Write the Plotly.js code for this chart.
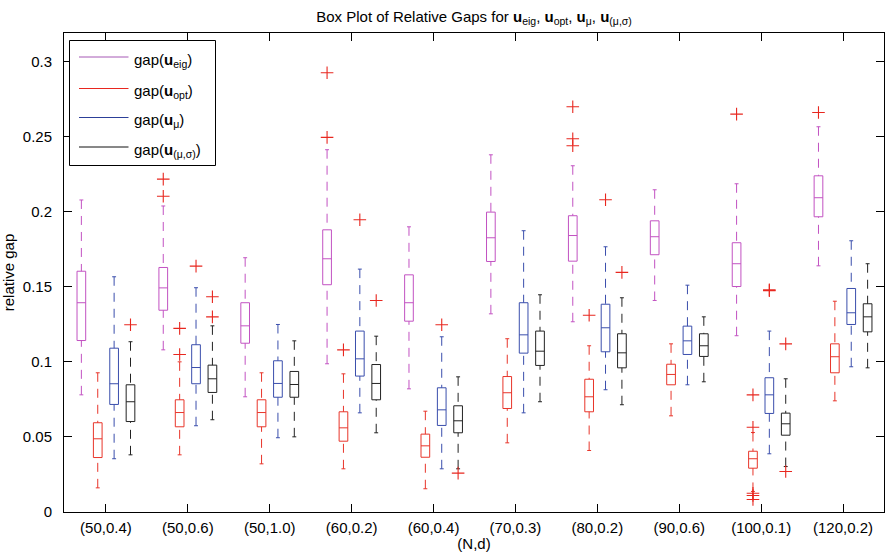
<!DOCTYPE html>
<html>
<head>
<meta charset="utf-8">
<script src="https://cdn.plot.ly/plotly-3.0.1.min.js"></script>
<style>
  html, body { margin: 0; padding: 0; background: #fff; }
  #chart { width: 885px; height: 552px; }
</style>
</head>
<body>
<div id="chart"></div>
<script>
// Problem sizes (N,d)
const groups = ['(50,0.4)', '(50,0.6)', '(50,1.0)', '(60,0.2)', '(60,0.4)',
                '(70,0.3)', '(80,0.2)', '(90,0.6)', '(100,0.1)', '(120,0.2)'];

// gap(u_eig): whisker ends, quartiles, median, outliers
const eigLo  = [0.0781, 0.1081, 0.0768, 0.0988, 0.0821, 0.1321, 0.1268, 0.1410, 0.1175, 0.1641];
const eigQ1  = [0.1143, 0.1345, 0.1125, 0.1515, 0.1272, 0.1670, 0.1672, 0.1715, 0.1503, 0.1968];
const eigMed = [0.1395, 0.1494, 0.1241, 0.1688, 0.1395, 0.1828, 0.1843, 0.1835, 0.1655, 0.2095];
const eigQ3  = [0.1605, 0.1630, 0.1395, 0.1881, 0.1581, 0.1999, 0.1975, 0.1941, 0.1795, 0.2241];
const eigHi  = [0.2080, 0.2040, 0.1695, 0.2415, 0.1901, 0.2381, 0.2308, 0.2148, 0.2188, 0.2568];
const eigOut = [[], [0.2219, 0.2105], [], [0.2928, 0.2497], [], [], [0.2701, 0.2488, 0.2441], [], [0.2652], [0.2663]];

// gap(u_opt)
const optLo  = [0.0161, 0.0381, 0.0321, 0.0288, 0.0155, 0.0461, 0.0410, 0.0641, 0.0137, 0.0741];
const optQ1  = [0.0363, 0.0568, 0.0568, 0.0472, 0.0365, 0.0690, 0.0668, 0.0848, 0.0292, 0.0928];
const optMed = [0.0488, 0.0663, 0.0663, 0.0561, 0.0441, 0.0795, 0.0768, 0.0917, 0.0355, 0.1035];
const optQ3  = [0.0595, 0.0748, 0.0748, 0.0668, 0.0519, 0.0903, 0.0885, 0.0985, 0.0405, 0.1121];
const optHi  = [0.0928, 0.1001, 0.0928, 0.0921, 0.0672, 0.1155, 0.1108, 0.1121, 0.0530, 0.1405];
const optOut = [[], [0.1224, 0.1050], [], [0.1081], [], [], [0.1312], [], [0.0781, 0.0565, 0.0125, 0.0110, 0.0083], []];

// gap(u_mu)
const muLo  = [0.0355, 0.0575, 0.0495, 0.0661, 0.0288, 0.0661, 0.0815, 0.0848, 0.0388, 0.0968];
const muQ1  = [0.0717, 0.0855, 0.0765, 0.0906, 0.0577, 0.1059, 0.1068, 0.1050, 0.0657, 0.1250];
const muMed = [0.0855, 0.0963, 0.0857, 0.1021, 0.0681, 0.1181, 0.1228, 0.1141, 0.0781, 0.1328];
const muQ3  = [0.1092, 0.1115, 0.1008, 0.1206, 0.0828, 0.1395, 0.1385, 0.1239, 0.0895, 0.1490];
const muHi  = [0.1568, 0.1495, 0.1250, 0.1619, 0.1168, 0.1875, 0.1768, 0.1512, 0.1206, 0.1808];
const muOut = [[], [0.1639], [], [0.1948], [0.1248], [], [0.2081], [], [0.1481, 0.1476], []];

// gap(u_(mu,sigma))
const msLo  = [0.0381, 0.0615, 0.0501, 0.0528, 0.0288, 0.0735, 0.0715, 0.0868, 0.0303, 0.0961];
const msQ1  = [0.0603, 0.0797, 0.0765, 0.0748, 0.0528, 0.0977, 0.0961, 0.1037, 0.0512, 0.1201];
const msMed = [0.0735, 0.0888, 0.0850, 0.0857, 0.0608, 0.1072, 0.1061, 0.1108, 0.0588, 0.1301];
const msQ3  = [0.0848, 0.0979, 0.0937, 0.0983, 0.0708, 0.1206, 0.1188, 0.1188, 0.0659, 0.1388];
const msHi  = [0.1135, 0.1241, 0.1141, 0.1172, 0.0901, 0.1448, 0.1428, 0.1301, 0.0888, 0.1655];
const msOut = [[0.1248], [0.1435, 0.1301], [], [0.1410], [0.0259], [], [0.1597], [], [0.1121, 0.0270], []];

const yTicks = [0, 0.05, 0.1, 0.15, 0.2, 0.25, 0.3];

const FONT = '"Liberation Sans", Arial, Helvetica, sans-serif';
const OUTLIER_RED = '#e8271f';

const series = [
  { label: 'gap(<b>u</b><sub>eig</sub>)',   color: '#c252c2', legendColor: '#a659b5', off: -0.3,
    lo: eigLo, q1: eigQ1, med: eigMed, q3: eigQ3, hi: eigHi, out: eigOut },
  { label: 'gap(<b>u</b><sub>opt</sub>)',   color: '#e8352a', legendColor: '#e8271f', off: -0.1,
    lo: optLo, q1: optQ1, med: optMed, q3: optQ3, hi: optHi, out: optOut },
  { label: 'gap(<b>u</b><sub>μ</sub>)',     color: '#3a4eac', legendColor: '#2c3f98', off: 0.1,
    lo: muLo, q1: muQ1, med: muMed, q3: muQ3, hi: muHi, out: muOut },
  { label: 'gap(<b>u</b><sub>(μ,σ)</sub>)', color: '#222222', legendColor: '#111111', off: 0.3,
    lo: msLo, q1: msQ1, med: msMed, q3: msQ3, hi: msHi, out: msOut }
];

const HALF = 0.053;   // half box width, in group units
const CAP = 0.024;    // half whisker-cap width

const traces = [];
series.forEach(s => {
  const bx = [], by = [], mx = [], my = [], wx = [], wy = [], cx = [], cy = [], ox = [], oy = [];
  groups.forEach((g, i) => {
    const c = i + s.off;
    bx.push(c - HALF, c + HALF, c + HALF, c - HALF, c - HALF, null);
    by.push(s.q1[i], s.q1[i], s.q3[i], s.q3[i], s.q1[i], null);
    mx.push(c - HALF, c + HALF, null);
    my.push(s.med[i], s.med[i], null);
    wx.push(c, c, null, c, c, null);
    wy.push(s.hi[i], s.q3[i], null, s.lo[i], s.q1[i], null);
    cx.push(c - CAP, c + CAP, null, c - CAP, c + CAP, null);
    cy.push(s.hi[i], s.hi[i], null, s.lo[i], s.lo[i], null);
    s.out[i].forEach(v => { ox.push(c); oy.push(v); });
  });
  const common = { type: 'scatter', mode: 'lines', hoverinfo: 'skip', showlegend: false, connectgaps: false };
  traces.push(Object.assign({}, common, { x: wx, y: wy, line: { color: s.color, width: 1, dash: '9px,7px' } }));
  traces.push(Object.assign({}, common, { x: cx, y: cy, line: { color: s.color, width: 1 } }));
  traces.push(Object.assign({}, common, { x: bx, y: by, line: { color: s.color, width: 1 } }));
  traces.push(Object.assign({}, common, { x: mx, y: my, line: { color: s.color, width: 1 } }));
  traces.push({ type: 'scatter', mode: 'markers', x: ox, y: oy, hoverinfo: 'y', showlegend: false,
    marker: { symbol: 'cross-thin', size: 9, line: { color: OUTLIER_RED, width: 1.1 } } });
});

// Plot area in pixels: left 64, right 884, top 33, bottom 512
const L = 64, R = 884, T = 33, B = 512;
const px = v => (v - L) / (R - L);
const py = v => (B - v) / (B - T);

// Legend box drawn with shapes and annotations
const shapes = [{
  type: 'rect', xref: 'paper', yref: 'paper',
  x0: px(69.5), x1: px(215.5), y0: py(165.5), y1: py(40.5),
  line: { color: '#000', width: 1 }, fillcolor: '#fff', layer: 'above'
}];
const annotations = [];
const rowY = [57, 88.5, 117.5, 147];
series.forEach((s, k) => {
  shapes.push({ type: 'line', xref: 'paper', yref: 'paper', layer: 'above',
    x0: px(79), x1: px(128.5), y0: py(rowY[k]), y1: py(rowY[k]),
    line: { color: s.legendColor, width: 1 } });
  annotations.push({ xref: 'paper', yref: 'paper', x: px(132), y: py(rowY[k]),
    xanchor: 'left', yanchor: 'middle', showarrow: false, yshift: -3,
    text: s.label, font: { family: FONT, size: 15, color: '#000' } });
});

const layout = {
  width: 885, height: 552,
  margin: { l: L, r: 885 - R, t: T, b: 552 - B },
  paper_bgcolor: '#fff', plot_bgcolor: '#fff',
  font: { family: FONT, size: 15, color: '#000' },
  title: {
    text: 'Box Plot of Relative Gaps for <b>u</b><sub>eig</sub>, <b>u</b><sub>opt</sub>, <b>u</b><sub>μ</sub>, <b>u</b><sub>(μ,σ)</sub>',
    font: { family: FONT, size: 15, color: '#000' },
    x: 0.5, xref: 'paper', xanchor: 'center', y: 1 - 17 / 552, yref: 'container', yanchor: 'middle'
  },
  xaxis: {
    range: [-0.512, 9.5], tickmode: 'array', tickvals: groups.map((g, i) => i), ticktext: groups,
    ticks: 'inside', ticklen: 8, tickcolor: '#000', showline: true, linecolor: '#000', linewidth: 1,
    mirror: 'ticks', showgrid: false, zeroline: false, ticklabelstandoff: 2,
    tickfont: { family: FONT, size: 15 },
    title: { text: '(N,d)', font: { family: FONT, size: 15 }, standoff: 2 }
  },
  yaxis: {
    range: [0, 0.3193], tickmode: 'array', tickvals: yTicks, ticktext: yTicks.map(v => String(v)),
    ticks: 'inside', ticklen: 8, tickcolor: '#000', showline: true, linecolor: '#000', linewidth: 1,
    mirror: 'ticks', showgrid: false, zeroline: false, ticklabelstandoff: 8,
    tickfont: { family: FONT, size: 15 },
    title: { text: 'relative gap', font: { family: FONT, size: 15 }, standoff: 6 }
  },
  shapes: shapes,
  annotations: annotations,
  showlegend: false
};

Plotly.newPlot('chart', traces, layout, { displayModeBar: false, staticPlot: true });
</script>
</body>
</html>
